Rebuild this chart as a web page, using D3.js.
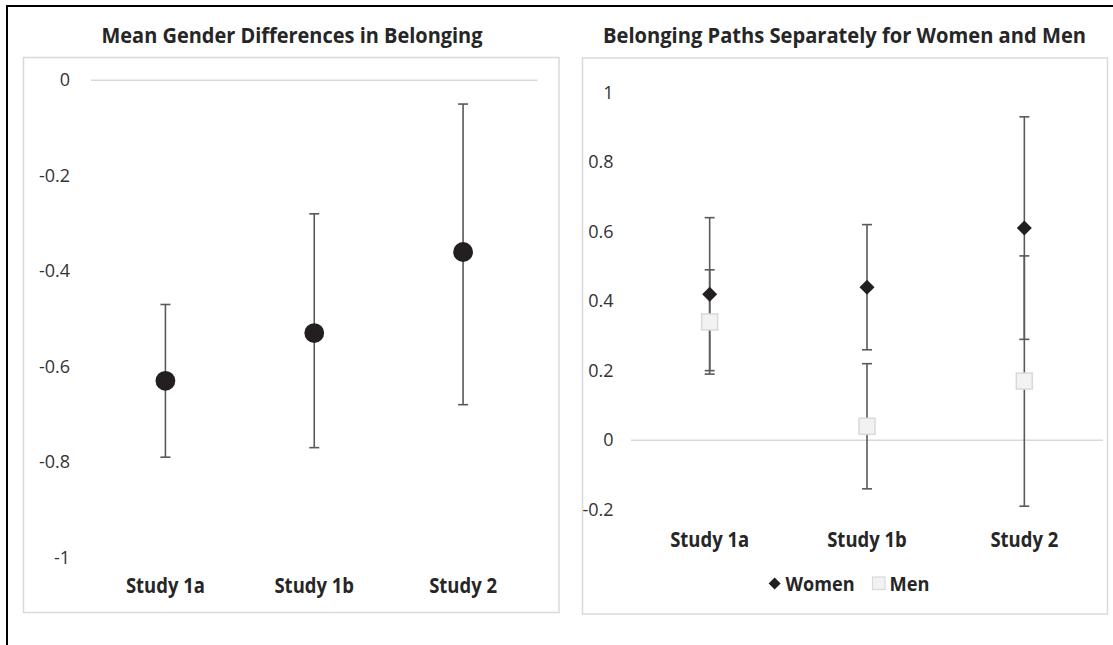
<!DOCTYPE html>
<html>
<head>
<meta charset="utf-8">
<script src="https://cdn.jsdelivr.net/npm/d3@7"></script>
<style>
  html, body { margin: 0; padding: 0; background: #ffffff; }
  svg { display: block; }
  text { font-family: "Open Sans", "DejaVu Sans", sans-serif; }
</style>
</head>
<body>
<svg id="chart" width="1113" height="645"></svg>
<script>
// ---------- data ----------
const categories = ["Study 1a", "Study 1b", "Study 2"];

// Left panel: mean gender differences in belonging
const diffMean  = [-0.63, -0.53, -0.36];
const diffLow   = [-0.79, -0.77, -0.68];
const diffHigh  = [-0.47, -0.28, -0.05];
const leftTicks = [0, -0.2, -0.4, -0.6, -0.8, -1];

// Right panel: belonging paths for women and men
const womenMean = [0.42, 0.44, 0.61];
const womenLow  = [0.20, 0.26, 0.29];
const womenHigh = [0.64, 0.62, 0.93];
const menMean   = [0.34, 0.04, 0.17];
const menLow    = [0.19, -0.14, -0.19];
const menHigh   = [0.49, 0.22, 0.53];
const rightTicks = [1, 0.8, 0.6, 0.4, 0.2, 0, -0.2];

const leftTitle  = "Mean Gender Differences in Belonging";
const rightTitle = "Belonging Paths Separately for Women and Men";
const legendLabels = ["Women", "Men"];

// ---------- helpers ----------
const svg = d3.select("#chart");
const K = 0.88; // horizontal condensing to approximate Calibri
function condense(sel, k) {
  sel.each(function() {
    const w = this.getComputedTextLength();
    d3.select(this).attr("textLength", w * k).attr("lengthAdjust", "spacingAndGlyphs");
  });
}
const fmt = d => String(d);

// outer black frame (extends beyond the view on right and bottom)
svg.append("rect").attr("x", 7).attr("y", 6).attr("width", 1200).attr("height", 700)
  .attr("fill", "none").attr("stroke", "#000").attr("stroke-width", 2);

// panel boxes
svg.append("rect").attr("x", 23.5).attr("y", 57.5).attr("width", 535.5).attr("height", 555)
  .attr("fill", "#fff").attr("stroke", "#d9d9d9").attr("stroke-width", 1.5);
svg.append("rect").attr("x", 582.5).attr("y", 58).attr("width", 525).attr("height", 556)
  .attr("fill", "#fff").attr("stroke", "#d9d9d9").attr("stroke-width", 1.5);

// titles
svg.append("text").attr("x", 292).attr("y", 43.3).attr("text-anchor", "middle")
  .attr("font-size", 21).attr("font-weight", "bold").attr("fill", "#262626")
  .text(leftTitle).attr("textLength", 381).attr("lengthAdjust", "spacingAndGlyphs");
svg.append("text").attr("x", 844.5).attr("y", 43.3).attr("text-anchor", "middle")
  .attr("font-size", 21).attr("font-weight", "bold").attr("fill", "#262626")
  .text(rightTitle).attr("textLength", 483).attr("lengthAdjust", "spacingAndGlyphs");

// ---------- left panel ----------
const xL = d3.scaleBand().domain(categories).range([91, 537.5]);
const yL = d3.scaleLinear().domain([-1, 0]).range([557.4, 80.2]);
const cxL = c => xL(c) + xL.bandwidth() / 2;

// gridline at 0 (horizontal axis line)
svg.append("line").attr("x1", xL.range()[0]).attr("x2", xL.range()[1])
  .attr("y1", yL(0)).attr("y2", yL(0)).attr("stroke", "#d9d9d9").attr("stroke-width", 1.5);

const axL = svg.append("g").attr("transform", `translate(${xL.range()[0]},0)`)
  .call(d3.axisLeft(yL).tickValues(leftTicks).tickSize(0).tickPadding(21).tickFormat(fmt));
axL.select(".domain").remove();
axL.selectAll("text").attr("font-size", 18).attr("fill", "#333333")
  .style("font-family", "'Open Sans', sans-serif");

const catL = svg.append("g").attr("transform", "translate(0,593)")
  .call(d3.axisBottom(xL).tickSize(0).tickPadding(0));
catL.select(".domain").remove();
catL.selectAll("text").attr("y", 0).attr("dy", 0).attr("font-size", 21).attr("font-weight", "bold")
  .attr("fill", "#262626").style("font-family", "'Open Sans', sans-serif").call(condense, K);

const errL = svg.append("g").attr("stroke", "#595959").attr("stroke-width", 1.6);
categories.forEach((c, i) => {
  const x = cxL(c);
  errL.append("line").attr("x1", x).attr("x2", x).attr("y1", yL(diffLow[i])).attr("y2", yL(diffHigh[i]));
  errL.append("line").attr("x1", x - 5).attr("x2", x + 5).attr("y1", yL(diffLow[i])).attr("y2", yL(diffLow[i]));
  errL.append("line").attr("x1", x - 5).attr("x2", x + 5).attr("y1", yL(diffHigh[i])).attr("y2", yL(diffHigh[i]));
});
svg.append("g").selectAll("circle").data(categories).join("circle")
  .attr("cx", c => cxL(c)).attr("cy", (c, i) => yL(diffMean[i])).attr("r", 9.9)
  .attr("fill", "#231f20");

// ---------- right panel ----------
const xR = d3.scaleBand().domain(categories).range([631, 1103]);
const yR = d3.scaleLinear().domain([-0.2, 1]).range([509.7, 92.5]);
const cxR = c => xR(c) + xR.bandwidth() / 2;

svg.append("line").attr("x1", xR.range()[0]).attr("x2", xR.range()[1])
  .attr("y1", yR(0)).attr("y2", yR(0)).attr("stroke", "#d9d9d9").attr("stroke-width", 1.5);

const axR = svg.append("g").attr("transform", `translate(${xR.range()[0]},0)`)
  .call(d3.axisLeft(yR).tickValues(rightTicks).tickSize(0).tickPadding(17.5).tickFormat(fmt));
axR.select(".domain").remove();
axR.selectAll("text").attr("font-size", 18).attr("fill", "#333333")
  .style("font-family", "'Open Sans', sans-serif");

const catR = svg.append("g").attr("transform", "translate(0,546.5)")
  .call(d3.axisBottom(xR).tickSize(0).tickPadding(0));
catR.select(".domain").remove();
catR.selectAll("text").attr("y", 0).attr("dy", 0).attr("font-size", 21).attr("font-weight", "bold")
  .attr("fill", "#262626").style("font-family", "'Open Sans', sans-serif").call(condense, K);

const errR = svg.append("g").attr("stroke", "#595959").attr("stroke-width", 1.6);
function errBars(lows, highs) {
  categories.forEach((c, i) => {
    const x = cxR(c);
    errR.append("line").attr("x1", x).attr("x2", x).attr("y1", yR(lows[i])).attr("y2", yR(highs[i]));
    errR.append("line").attr("x1", x - 5).attr("x2", x + 5).attr("y1", yR(lows[i])).attr("y2", yR(lows[i]));
    errR.append("line").attr("x1", x - 5).attr("x2", x + 5).attr("y1", yR(highs[i])).attr("y2", yR(highs[i]));
  });
}
errBars(womenLow, womenHigh);
errBars(menLow, menHigh);

const diamond = s => `M0,${-s}L${s},0L0,${s}L${-s},0Z`;
svg.append("g").selectAll("path").data(categories).join("path")
  .attr("transform", (c, i) => `translate(${cxR(c)},${yR(womenMean[i])})`)
  .attr("d", diamond(7.5)).attr("fill", "#231f20");
svg.append("g").selectAll("rect").data(categories).join("rect")
  .attr("x", c => cxR(c) - 8).attr("y", (c, i) => yR(menMean[i]) - 8)
  .attr("width", 16).attr("height", 16)
  .attr("fill", "#f2f2f2").attr("stroke", "#d9d9d9").attr("stroke-width", 1.5);

// legend
const lg = svg.append("g");
lg.append("path").attr("transform", "translate(774.6,583.5)").attr("d", diamond(6)).attr("fill", "#231f20");
lg.append("text").attr("x", 785.6).attr("y", 590.7).attr("font-size", 20).attr("font-weight", "bold")
  .attr("fill", "#262626").text(legendLabels[0])
  .attr("textLength", 69).attr("lengthAdjust", "spacingAndGlyphs");
lg.append("rect").attr("x", 872.5).attr("y", 577).attr("width", 12.5).attr("height", 12.5)
  .attr("fill", "#f2f2f2").attr("stroke", "#d9d9d9").attr("stroke-width", 1.2);
lg.append("text").attr("x", 889.5).attr("y", 590.7).attr("font-size", 20).attr("font-weight", "bold")
  .attr("fill", "#262626").text(legendLabels[1])
  .attr("textLength", 40).attr("lengthAdjust", "spacingAndGlyphs");
</script>
</body>
</html>
